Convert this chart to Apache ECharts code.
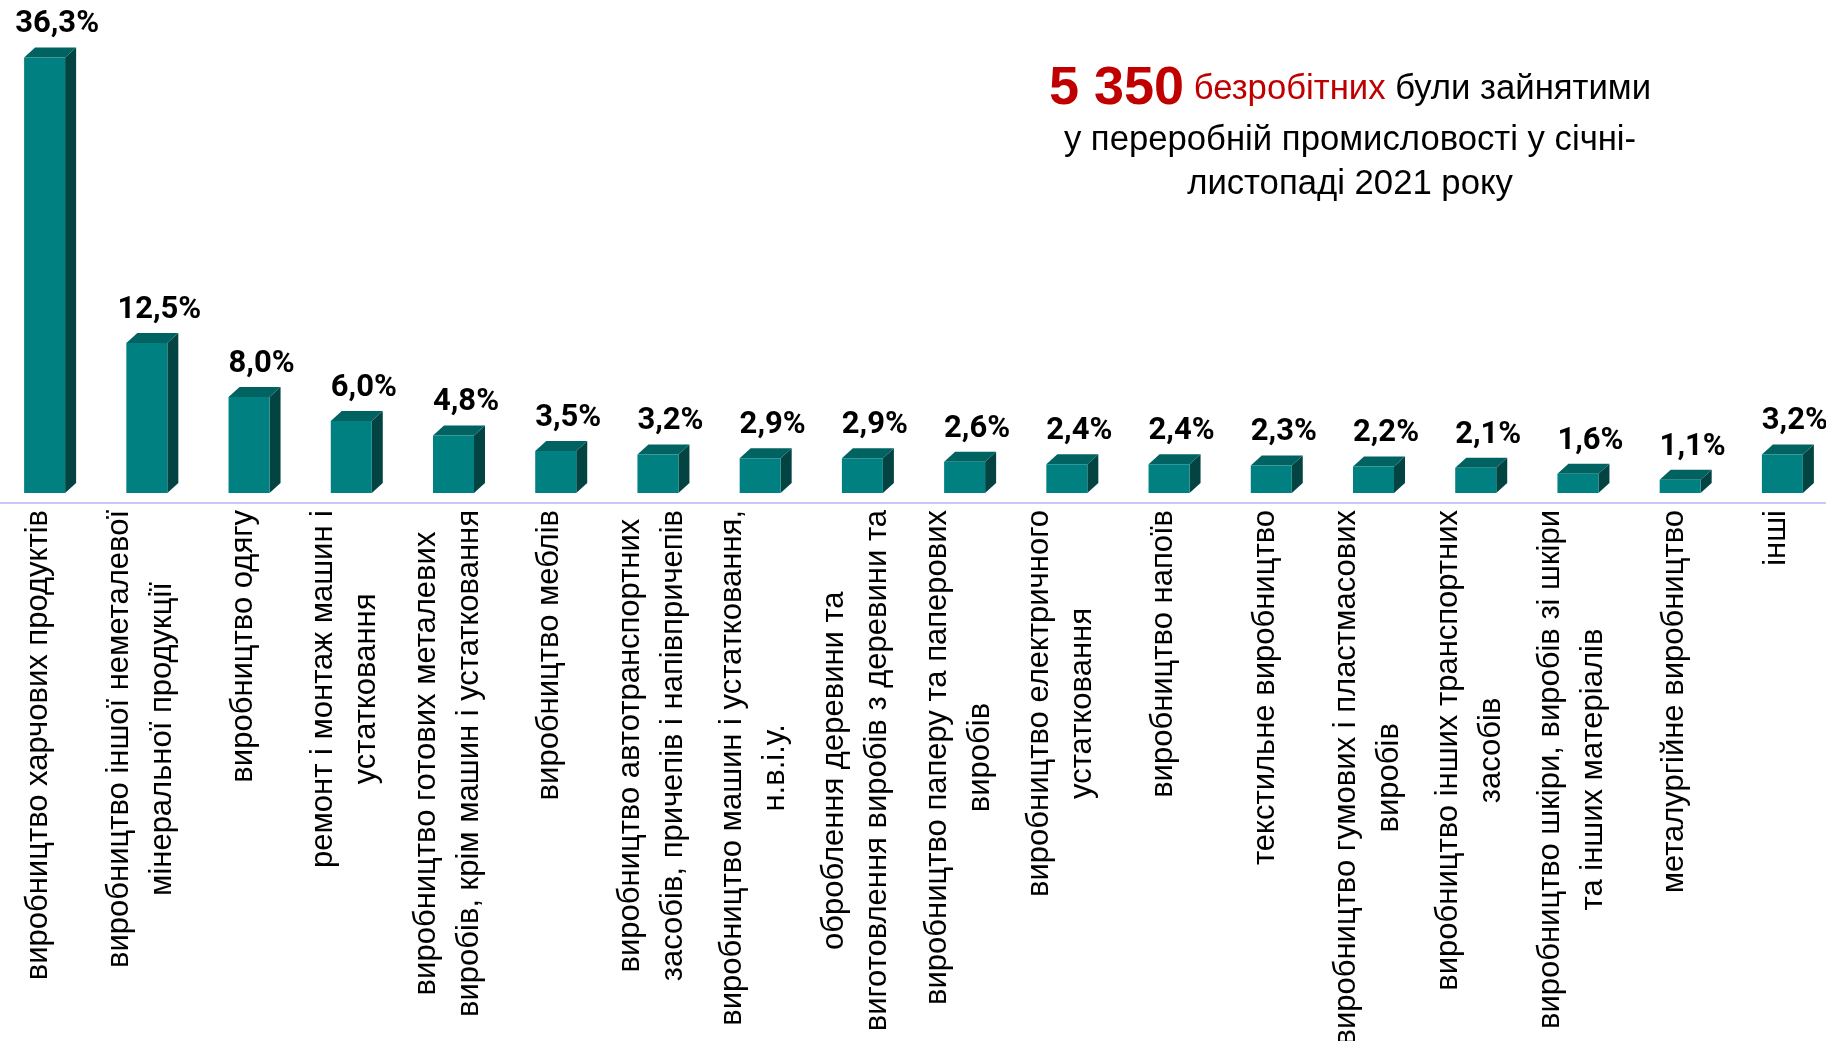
<!DOCTYPE html>
<html>
<head>
<meta charset="utf-8">
<script src="https://cdn.jsdelivr.net/npm/echarts@6/dist/echarts.min.js"></script>
<style>
html,body{margin:0;padding:0;background:#fff;}
#main{width:1826px;height:1041px;}
</style>
</head>
<body>
<div id="main"></div>
<script>
// ---- data ----
const categories = [
  "виробництво харчових продуктів",
  "виробництво іншої неметалевої\nмінеральної продукції",
  "виробництво одягу",
  "ремонт і монтаж машин і\nустатковання",
  "виробництво готових металевих\nвиробів, крім машин і устатковання",
  "виробництво меблів",
  "виробництво автотранспортних\nзасобів, причепів і напівпричепів",
  "виробництво машин і устатковання,\nн.в.і.у.",
  "оброблення деревини та\nвиготовлення виробів з деревини та",
  "виробництво паперу та паперових\nвиробів",
  "виробництво електричного\nустатковання",
  "виробництво напоїв",
  "текстильне виробництво",
  "виробництво гумових і пластмасових\nвиробів",
  "виробництво інших транспортних\nзасобів",
  "виробництво шкіри, виробів зі шкіри\nта інших матеріалів",
  "металургійне виробництво",
  "інші"
];
const shares = [36.3, 12.5, 8.0, 6.0, 4.8, 3.5, 3.2, 2.9, 2.9, 2.6, 2.4, 2.4, 2.3, 2.2, 2.1, 1.6, 1.1, 3.2];
const titleCount = "5 350";
const titleLine1a = "безробітних";
const titleLine1b = "були зайнятими";
const titleLine2 = "у переробній промисловості у січні-";
const titleLine3 = "листопаді 2021 року";

// ---- style ----
const FRONT = "#008080", TOPC = "#006361", SIDE = "#034443";
const SANS = "'Liberation Sans', Arial, sans-serif";
const TFS = 34.7;

const chart = echarts.init(document.getElementById('main'), null, {renderer: 'canvas'});

function fmt(v) { return v.toFixed(1).replace('.', ',') + '%'; }

const option = {
  backgroundColor: '#ffffff',
  animation: false,
  title: {
    text: '{n|' + titleCount + '}{s| }{r|' + titleLine1a + '}{s| }{b1|' + titleLine1b + '}\n{b|' + titleLine2 + '}\n{b|' + titleLine3 + '}',
    left: 1345,
    top: 56,
    textAlign: 'center',
    textStyle: {
      fontWeight: 'normal',
      fontFamily: SANS,
      rich: {
        n: {fontSize: 54, fontWeight: 'bold', color: '#C00000', fontFamily: SANS, lineHeight: 57},
        s: {fontSize: TFS, fontWeight: 'normal', color: '#000000', fontFamily: SANS, lineHeight: 57},
        r: {fontSize: TFS, fontWeight: 'normal', color: '#C00000', fontFamily: SANS, lineHeight: 57},
        b1: {fontSize: TFS, fontWeight: 'normal', color: '#000000', fontFamily: SANS, lineHeight: 57},
        b: {fontSize: TFS, fontWeight: 'normal', color: '#000000', fontFamily: SANS, lineHeight: 44}
      }
    }
  },
  grid: {left: -1, right: -13, top: 13, bottom: 548, containLabel: false, outerBoundsMode: 'none'},
  xAxis: {
    type: 'category',
    data: categories,
    offset: 10,
    axisLine: {show: true, onZero: false, lineStyle: {color: '#c8c8f4', width: 2}},
    axisTick: {show: false},
    splitLine: {show: false},
    axisLabel: {
      interval: 0,
      rotate: 90,
      margin: 7,
      padding: [0, 0, 23, 0],
      formatter: function (val) {
        return val.split('\n').map(function (l) { return '{c|' + l + '}'; }).join('\n');
      },
      rich: {
        c: {align: 'center', fontSize: 31, lineHeight: 43, fontFamily: SANS, color: '#000000'}
      }
    }
  },
  yAxis: {
    type: 'value', min: 0, max: 40, show: false,
    splitLine: {show: false}
  },
  series: [{
    type: 'custom',
    data: shares.map(function (v, i) { return [i, v]; }),
    encode: {x: 0, y: 1},
    renderItem: function (params, api) {
      const i = api.value(0), v = api.value(1);
      const base = api.coord([i, 0]);
      const top = api.coord([i, v]);
      const cx = base[0];
      const fl = cx - 26, fr = cx + 15, d = 11, dy = 10;
      const y0 = base[1], y1 = top[1];
      return {
        type: 'group',
        children: [
          {type: 'polygon', shape: {points: [[fr, y1], [fr + d, y1 - dy], [fr + d, y0 - dy], [fr, y0]]}, style: {fill: SIDE}},
          {type: 'polygon', shape: {points: [[fl, y1], [fl + d, y1 - dy], [fr + d, y1 - dy], [fr, y1]]}, style: {fill: TOPC}},
          {type: 'rect', shape: {x: fl, y: y1, width: fr - fl, height: y0 - y1}, style: {fill: FRONT}},
          {type: 'text', style: {text: fmt(v), x: cx + 7, y: y1 - 33, align: 'center', verticalAlign: 'middle',
            fontSize: 31, fontWeight: 'bold', fontFamily: "Roboto, sans-serif", fill: '#000000'}}
        ]
      };
    }
  }]
};
chart.setOption(option);
</script>
</body>
</html>
